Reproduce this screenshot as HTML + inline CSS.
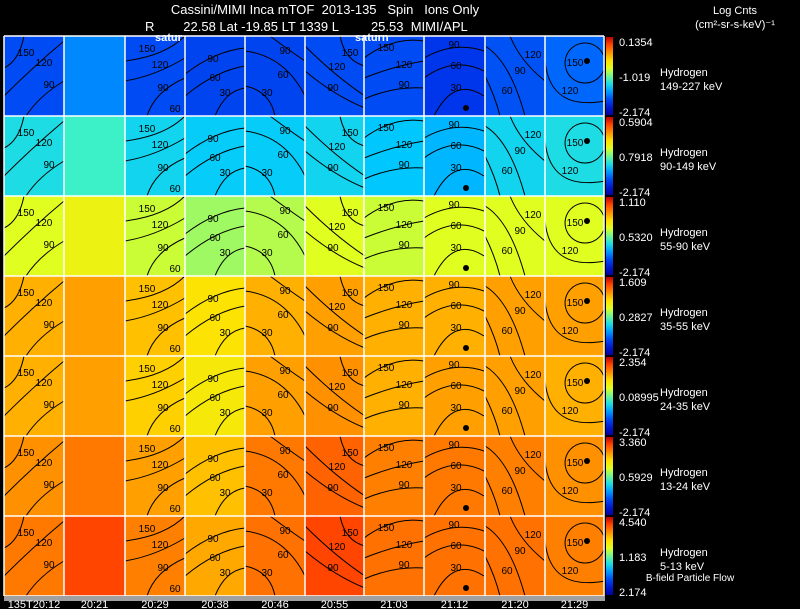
<!DOCTYPE html>
<html><head><meta charset="utf-8">
<style>
body{margin:0;background:#000;width:800px;height:609px;overflow:hidden;font-family:"Liberation Sans",sans-serif;}
svg{display:block}
text{font-family:"Liberation Sans",sans-serif;white-space:pre;}
</style></head>
<body>
<svg id="chart" width="800" height="609" xmlns="http://www.w3.org/2000/svg">
<rect x="0" y="0" width="800" height="609" fill="#000"/>
<text x="325" y="14" fill="#fff" font-size="13" text-anchor="middle" xml:space="preserve">Cassini/MIMI Inca mTOF  2013-135   Spin   Ions Only</text>
<text x="145" y="31" fill="#fff" font-size="13" xml:space="preserve">R        22.58 Lat -19.85 LT 1339 L         25.53  MIMI/APL</text>
<text x="735" y="14" fill="#fff" font-size="11" text-anchor="middle">Log Cnts</text>
<text x="735" y="28" fill="#fff" font-size="11" text-anchor="middle">(cm²-sr-s-keV)⁻¹</text>
<g id="panels"></g>
<g id="contours"></g>
<g id="grid"></g>
<g id="side"></g>
<rect x="4" y="596" width="601" height="5" fill="#a0a0a0"/>
<g id="times"></g>
<text x="155" y="41" fill="#fff" font-size="11" font-weight="bold">satur</text>
<text x="355" y="41" fill="#fff" font-size="11" font-weight="bold">saturn</text>
<text x="690" y="581" fill="#fff" font-size="10" text-anchor="middle">B-field Particle Flow</text>
</svg>
<script>
const timeLabels = ["135T20:12","20:21","20:29","20:38","20:46","20:55","21:03","21:12","21:20","21:29"];
const energyLabels = ["149-227 keV","90-149 keV","55-90 keV","35-55 keV","24-35 keV","13-24 keV","5-13 keV"];
const cbarTop = ["0.1354","0.5904","1.110","1.609","2.354","3.360","4.540"];
const cbarMid = ["-1.019","0.7918","0.5320","0.2827","0.08995","0.5929","1.183"];
const cbarBot = ["-2.174","-2.174","-2.174","-2.174","-2.174","-2.174","2.174"];
const row0 = [0.2,0.28,0.2,0.19,0.19,0.2,0.2,0.17,0.21,0.24];
const row1 = [0.4,0.45,0.38,0.36,0.36,0.38,0.35,0.33,0.38,0.4];
const row2 = [0.6,0.64,0.58,0.54,0.56,0.6,0.58,0.6,0.6,0.6];
const row3 = [0.76,0.78,0.74,0.69,0.76,0.78,0.76,0.76,0.78,0.78];
const row4 = [0.76,0.78,0.72,0.67,0.78,0.8,0.76,0.78,0.78,0.76];
const row5 = [0.8,0.83,0.78,0.74,0.83,0.86,0.82,0.83,0.82,0.8];
const row6 = [0.83,0.9,0.82,0.77,0.84,0.9,0.84,0.84,0.84,0.82];
const rows = [row0,row1,row2,row3,row4,row5,row6];

const NS="http://www.w3.org/2000/svg";
const colX=[4,64,125,185,245,305,364,424,485,545,604];
const rowY=[36,116,196,276,356,436,516,596];
const stops=[[0,[0,0,160]],[0.15,[0,40,230]],[0.25,[0,110,255]],[0.35,[0,200,255]],[0.45,[60,240,200]],[0.6,[224,255,32]],[0.7,[255,224,0]],[0.82,[255,128,0]],[0.95,[255,32,0]],[1,[192,0,0]]];
function cmap(v){
  v=Math.max(0,Math.min(1,v));
  for(let i=1;i<stops.length;i++){
    if(v<=stops[i][0]){
      const a=stops[i-1],b=stops[i],t=(v-a[0])/(b[0]-a[0]);
      const c=a[1].map((x,k)=>Math.round(x+(b[1][k]-x)*t));
      return `rgb(${c[0]},${c[1]},${c[2]})`;
    }
  }
  return "rgb(192,0,0)";
}
function mk(tag,attrs,parent){const e=document.createElementNS(NS,tag);for(const k in attrs)e.setAttribute(k,attrs[k]);parent.appendChild(e);return e;}
const gP=document.getElementById('panels'),gC=document.getElementById('contours'),gG=document.getElementById('grid'),gS=document.getElementById('side'),gT=document.getElementById('times');

rows.forEach((row,r)=>{
  row.forEach((v,c)=>{
    const el=mk('rect',{x:colX[c],y:rowY[r],width:colX[c+1]-colX[c],height:rowY[r+1]-rowY[r],fill:cmap(v)},gP);
    
    
  });
});

const contourPaths=[
 ["M20,0 Q15,25 0,32","M60,5 Q30,30 0,60","M60,45 Q35,60 22,80"],
 [],
 ["M60,0 Q40,20 0,25","M60,22 Q30,40 0,45","M60,42 Q30,55 22,80"],
 ["M0,38 Q30,15 60,12","M0,60 Q30,35 60,30","M30,80 Q40,55 60,52"],
 ["M25,0 Q45,15 60,25","M0,15 Q40,20 60,60","M0,50 Q25,55 30,80"],
 ["M35,0 Q40,25 60,30","M0,10 Q30,40 60,60","M0,35 Q30,60 60,72"],
 ["M0,22 Q30,0 60,5","M0,42 Q30,30 60,25","M0,63 Q30,50 60,52"],
 ["M0,22 Q30,5 60,15","M0,42 Q30,20 60,35","M10,80 Q30,40 60,60"],
 ["M25,0 Q35,25 60,45","M0,10 Q25,25 40,80","M0,40 Q10,60 15,80"],
 ["M40,7 A20,20 0 1 0 40.1,7","M0,25 Q5,75 60,65"]
];
const contourLabels=[
 [["150",22,20],["120",40,30],["90",45,52]],[],
 [["150",22,16],["120",35,32],["90",38,55],["60",50,76]],
 [["90",28,26],["60",30,45],["30",40,60]],
 [["90",40,18],["60",38,42],["30",22,60]],
 [["150",45,20],["120",32,34],["90",28,55]],
 [["150",22,15],["120",40,32],["90",40,52]],
 [["90",30,12],["60",32,33],["30",32,55]],
 [["120",48,22],["90",35,38],["60",22,58]],
 [["150",30,30],["120",25,58]]
];
rows.forEach((row,r)=>{
  contourPaths.forEach((paths,c)=>{
    const g=mk('g',{transform:`translate(${colX[c]},${rowY[r]})`},gC);
    
    
    paths.forEach(d=>{const p=mk('path',{d:d,fill:'none',stroke:'#000','stroke-width':1},g);
      
      });
    contourLabels[c].forEach(l=>{const t=mk('text',{x:l[1],y:l[2],'font-size':10,fill:'#000','text-anchor':'middle'},g);t.textContent=l[0];
      
      });
    if(c===7||c===9){const d=mk('circle',{cx:42,cy:c===7?72:25,r:3,fill:'#000'},g);
      
      }
  });
});

colX.forEach(x=>{const l=mk('line',{x1:x,x2:x,y1:36,y2:596,stroke:'#fff','stroke-width':1.5},gG);
  
  });
rowY.forEach(y=>{const l=mk('line',{x1:4,x2:604,y1:y,y2:y,stroke:'#fff','stroke-width':1.5},gG);
  
  });

const defs=mk('defs',{},gS);
const lg=mk('linearGradient',{id:'cb',x1:0,y1:1,x2:0,y2:0},defs);
for(let i=0;i<=10;i++){mk('stop',{offset:i/10,'stop-color':cmap(i/10)},lg);}
energyLabels.forEach((lab,r)=>{
  const y0=rowY[r]+1,y1=rowY[r+1]-1;
  const cb=mk('rect',{x:606,y:y0,width:7,height:y1-y0,fill:'url(#cb)'},gS);
  
  
  const t1=mk('text',{x:619,y:y0+9,'font-size':11,fill:'#fff'},gS);t1.textContent=cbarTop[r];
  
  
  const t2=mk('text',{x:619,y:(y0+y1)/2+5,'font-size':11,fill:'#fff'},gS);t2.textContent=cbarMid[r];
  
  
  const t3=mk('text',{x:619,y:y1+1,'font-size':11,fill:'#fff'},gS);t3.textContent=cbarBot[r];
  
  
  const h=mk('text',{x:660,y:(y0+y1)/2,'font-size':11,fill:'#fff'},gS);h.textContent='Hydrogen';
  
  
  const e=mk('text',{x:660,y:(y0+y1)/2+14,'font-size':11,fill:'#fff'},gS);e.textContent=lab;
  
  
});
timeLabels.forEach((lab,c)=>{
  const t=mk('text',{x:(colX[c]+colX[c+1])/2,y:608,'font-size':11,fill:'#fff','text-anchor':'middle'},gT);t.textContent=lab;
  
  
});
</script>
</body></html>
